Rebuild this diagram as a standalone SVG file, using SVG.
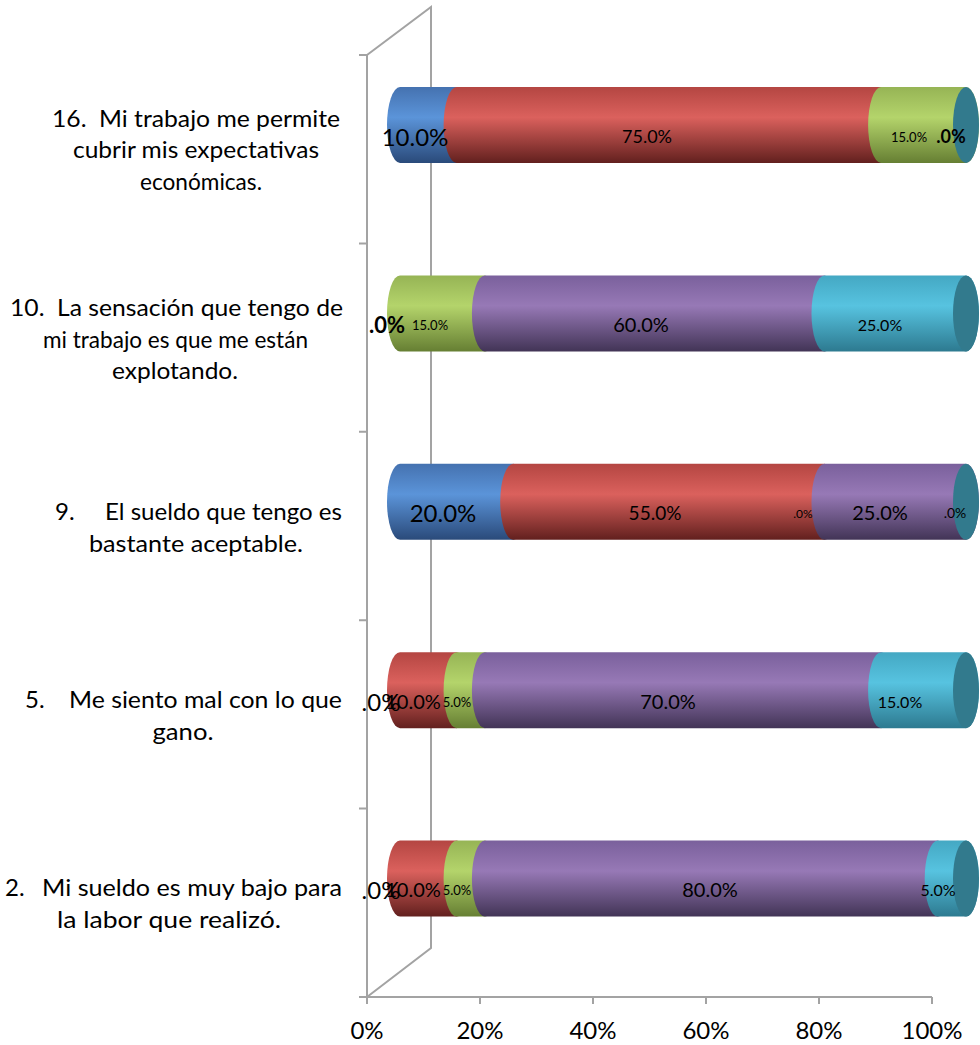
<svg xmlns="http://www.w3.org/2000/svg" width="980" height="1045" viewBox="0 0 980 1045">
<style>
.wall{stroke:#a3a3a3;stroke-width:2;fill:none}
.cat{font-family:Lato,"Liberation Sans",sans-serif;font-size:24px;fill:#000}
.ax{font-family:Lato,"Liberation Sans",sans-serif;font-size:24px;fill:#000;text-anchor:middle}
.dl{font-family:Lato,"Liberation Sans",sans-serif;fill:#000;text-anchor:middle}
.b{font-weight:bold}
</style>
<defs>
<linearGradient id="gB" x1="0" y1="0" x2="0" y2="1"><stop offset="0" stop-color="#4572B0"/><stop offset="0.4" stop-color="#5B94D9"/><stop offset="1" stop-color="#2A4A7A"/></linearGradient>
<linearGradient id="gR" x1="0" y1="0" x2="0" y2="1"><stop offset="0" stop-color="#B44642"/><stop offset="0.4" stop-color="#DB615D"/><stop offset="1" stop-color="#62201E"/></linearGradient>
<linearGradient id="gG" x1="0" y1="0" x2="0" y2="1"><stop offset="0" stop-color="#96B455"/><stop offset="0.4" stop-color="#B4D46B"/><stop offset="1" stop-color="#667F33"/></linearGradient>
<linearGradient id="gP" x1="0" y1="0" x2="0" y2="1"><stop offset="0" stop-color="#7A609C"/><stop offset="0.4" stop-color="#9779B6"/><stop offset="1" stop-color="#423456"/></linearGradient>
<linearGradient id="gC" x1="0" y1="0" x2="0" y2="1"><stop offset="0" stop-color="#44A8C3"/><stop offset="0.4" stop-color="#57C3E0"/><stop offset="1" stop-color="#2D7A90"/></linearGradient>
</defs>
<rect width="980" height="1045" fill="#fff"/>

<g id="wall">
<path class="wall" d="M367,55 L431,7 L431,948 L367,997 M367,55 L367,997 L932,997"/>
<path class="wall" d="M359,55 H367 M359,243.4 H367 M359,431.8 H367 M359,620.2 H367 M359,808.6 H367 M359,997 H367"/>
<path class="wall" d="M367,997 V1004 M480,997 V1004 M593,997 V1004 M706,997 V1004 M819,997 V1004 M932,997 V1004"/>
</g>

<g id="axis-labels">
<text class="ax" x="367" y="1039">0%</text>
<text class="ax" x="480" y="1039">20%</text>
<text class="ax" x="593" y="1039">40%</text>
<text class="ax" x="706" y="1039">60%</text>
<text class="ax" x="819" y="1039">80%</text>
<text class="ax" x="932" y="1039">100%</text>
</g>

<g id="item-16">
<text class="cat" text-anchor="middle" x="196" y="127" textLength="288" lengthAdjust="spacingAndGlyphs">16.&#160; Mi trabajo me permite</text>
<text class="cat" text-anchor="middle" x="196" y="158" textLength="246" lengthAdjust="spacingAndGlyphs">cubrir mis expectativas</text>
<text class="cat" text-anchor="middle" x="201" y="190" textLength="122" lengthAdjust="spacingAndGlyphs">económicas.</text>
<path fill="url(#gB)" d="M400,87 A13,38 0 0 0 400,163 L456.6,163 A13,38 0 0 0 456.6,87 Z"/>
<path fill="url(#gR)" d="M456.6,87 A13,38 0 0 0 456.6,163 L881.1,163 A13,38 0 0 0 881.1,87 Z"/>
<path fill="url(#gG)" d="M881.1,87 A13,38 0 0 0 881.1,163 L966,163 A13,38 0 0 0 966,87 Z"/>
<ellipse cx="966" cy="125" rx="13" ry="38" fill="#327A8D"/>
<text class="dl" x="415" y="146" font-size="24">10.0%</text>
<text class="dl" x="647" y="143" font-size="18">75.0%</text>
<text class="dl" x="909" y="142" font-size="13">15.0%</text>
<text class="dl b" x="951" y="143" font-size="18">.0%</text>
</g>

<g id="item-10">
<text class="cat" text-anchor="middle" x="176.5" y="316" textLength="333" lengthAdjust="spacingAndGlyphs">10.&#160; La sensación que tengo de</text>
<text class="cat" text-anchor="middle" x="175.5" y="348" textLength="265" lengthAdjust="spacingAndGlyphs">mi trabajo es que me están</text>
<text class="cat" text-anchor="middle" x="175" y="379" textLength="126" lengthAdjust="spacingAndGlyphs">explotando.</text>
<path fill="url(#gG)" d="M400,275.4 A13,38 0 0 0 400,351.4 L484.9,351.4 A13,38 0 0 0 484.9,275.4 Z"/>
<path fill="url(#gP)" d="M484.9,275.4 A13,38 0 0 0 484.9,351.4 L824.5,351.4 A13,38 0 0 0 824.5,275.4 Z"/>
<path fill="url(#gC)" d="M824.5,275.4 A13,38 0 0 0 824.5,351.4 L966,351.4 A13,38 0 0 0 966,275.4 Z"/>
<ellipse cx="966" cy="313.4" rx="13" ry="38" fill="#327A8D"/>
<text class="dl b" x="387" y="333" font-size="22">.0%</text>
<text class="dl" x="430" y="330" font-size="13">15.0%</text>
<text class="dl" x="641" y="332" font-size="20">60.0%</text>
<text class="dl" x="880" y="331" font-size="16">25.0%</text>
</g>

<g id="item-9">
<text class="cat" x="55" y="520">9.</text>
<text class="cat" x="105" y="520" textLength="237" lengthAdjust="spacingAndGlyphs">El sueldo que tengo es</text>
<text class="cat" text-anchor="middle" x="196" y="552" textLength="214" lengthAdjust="spacingAndGlyphs">bastante aceptable.</text>
<path fill="url(#gB)" d="M400,463.8 A13,38 0 0 0 400,539.8 L513.2,539.8 A13,38 0 0 0 513.2,463.8 Z"/>
<path fill="url(#gR)" d="M513.2,463.8 A13,38 0 0 0 513.2,539.8 L824.5,539.8 A13,38 0 0 0 824.5,463.8 Z"/>
<path fill="url(#gP)" d="M824.5,463.8 A13,38 0 0 0 824.5,539.8 L966,539.8 A13,38 0 0 0 966,463.8 Z"/>
<ellipse cx="966" cy="501.8" rx="13" ry="38" fill="#327A8D"/>
<text class="dl" x="443" y="522" font-size="24">20.0%</text>
<text class="dl" x="655" y="520" font-size="19">55.0%</text>
<text class="dl" x="803" y="518" font-size="12">.0%</text>
<text class="dl" x="880" y="520" font-size="20">25.0%</text>
<text class="dl" x="955" y="518" font-size="14">.0%</text>
</g>

<g id="item-5">
<text class="cat" x="25" y="708">5.</text>
<text class="cat" x="69" y="708" textLength="273" lengthAdjust="spacingAndGlyphs">Me siento mal con lo que</text>
<text class="cat" text-anchor="middle" x="183" y="740" textLength="61" lengthAdjust="spacingAndGlyphs">gano.</text>
<path fill="url(#gR)" d="M400,652.2 A13,38 0 0 0 400,728.2 L456.6,728.2 A13,38 0 0 0 456.6,652.2 Z"/>
<path fill="url(#gG)" d="M456.6,652.2 A13,38 0 0 0 456.6,728.2 L484.9,728.2 A13,38 0 0 0 484.9,652.2 Z"/>
<path fill="url(#gP)" d="M484.9,652.2 A13,38 0 0 0 484.9,728.2 L881.1,728.2 A13,38 0 0 0 881.1,652.2 Z"/>
<path fill="url(#gC)" d="M881.1,652.2 A13,38 0 0 0 881.1,728.2 L966,728.2 A13,38 0 0 0 966,652.2 Z"/>
<ellipse cx="966" cy="690.2" rx="13" ry="38" fill="#327A8D"/>
<text class="dl" x="381" y="711" font-size="24">.0%</text>
<text class="dl" x="413" y="709" font-size="20">10.0%</text>
<text class="dl" x="457" y="707" font-size="13">5.0%</text>
<text class="dl" x="668" y="709" font-size="20">70.0%</text>
<text class="dl" x="900" y="708" font-size="16">15.0%</text>
</g>

<g id="item-2">
<text class="cat" x="5" y="896">2.</text>
<text class="cat" x="42" y="896" textLength="300" lengthAdjust="spacingAndGlyphs">Mi sueldo es muy bajo para</text>
<text class="cat" text-anchor="middle" x="169" y="928" textLength="224" lengthAdjust="spacingAndGlyphs">la labor que realizó.</text>
<path fill="url(#gR)" d="M400,840.6 A13,38 0 0 0 400,916.6 L456.6,916.6 A13,38 0 0 0 456.6,840.6 Z"/>
<path fill="url(#gG)" d="M456.6,840.6 A13,38 0 0 0 456.6,916.6 L484.9,916.6 A13,38 0 0 0 484.9,840.6 Z"/>
<path fill="url(#gP)" d="M484.9,840.6 A13,38 0 0 0 484.9,916.6 L937.7,916.6 A13,38 0 0 0 937.7,840.6 Z"/>
<path fill="url(#gC)" d="M937.7,840.6 A13,38 0 0 0 937.7,916.6 L966,916.6 A13,38 0 0 0 966,840.6 Z"/>
<ellipse cx="966" cy="878.6" rx="13" ry="38" fill="#327A8D"/>
<text class="dl" x="381" y="899" font-size="24">.0%</text>
<text class="dl" x="413" y="897" font-size="20">10.0%</text>
<text class="dl" x="457" y="895" font-size="13">5.0%</text>
<text class="dl" x="710" y="897" font-size="20">80.0%</text>
<text class="dl" x="938" y="896" font-size="16">5.0%</text>
</g>
</svg>
